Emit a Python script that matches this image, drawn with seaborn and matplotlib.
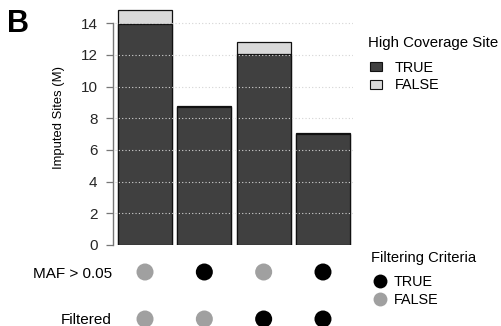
import matplotlib
matplotlib.use("Agg")
import matplotlib.pyplot as plt
from matplotlib.patches import Patch
from matplotlib.lines import Line2D
import seaborn as sns
import pandas as pd

# Imputed sites (millions) per filtering combination
combos = ["none", "maf", "filtered", "maf+filtered"]
high_cov_true = [13.95, 8.72, 12.05, 7.02]
high_cov_false = [0.89, 0.05, 0.78, 0.03]
maf_pass = [False, True, False, True]
filtered = [False, False, True, True]
y_ticks = [0, 2, 4, 6, 8, 10, 12, 14]
row_labels = ["MAF > 0.05", "Filtered"]

DARK = "#404040"
LIGHT = "#d9d9d9"
DOT_ON = "#000000"
DOT_OFF = "#a0a0a0"

sns.set_theme(style="white")
plt.rcParams["font.family"] = ["Liberation Sans", "DejaVu Sans"]
plt.rcParams["text.color"] = "black"
plt.rcParams["axes.labelcolor"] = "black"

W, H = 501, 326
fig = plt.figure(figsize=(W / 100, H / 100), dpi=100)


def rect(l, t, r, b):
    return [l / W, 1 - b / H, (r - l) / W, (b - t) / H]


bars = pd.DataFrame({
    "combo": combos,
    "true": high_cov_true,
    "total": [a + b for a, b in zip(high_cov_true, high_cov_false)],
})

# stacked bars: total (light) underneath, high-coverage part (dark) on top
ax = fig.add_axes(rect(115.35, 245 - 15 * 15.84, 352.65, 245))
sns.barplot(data=bars, x="combo", y="total", color=LIGHT, saturation=1,
            width=0.91, edgecolor="#111111", linewidth=0.9, ax=ax, zorder=2)
sns.barplot(data=bars, x="combo", y="true", color=DARK, saturation=1,
            width=0.91, edgecolor="#111111", linewidth=0.9, ax=ax, zorder=3)
ax.set_xlim(-0.5, 3.5)
ax.set_ylim(0, 15)
for yv in y_ticks[1:]:
    ax.axhline(yv, color="#d4d4d4", linestyle=(0, (1, 2)), linewidth=0.8, zorder=4)
ax.set_yticks(y_ticks)
ax.set_yticklabels([str(v) for v in y_ticks], fontsize=9.5, color="black")
ax.tick_params(axis="y", length=5, width=0.9, color="#777777", pad=5.8, left=True, direction="out")
ax.set_xticks([])
ax.set_xlabel("")
ax.set_ylabel("Imputed Sites (M)", fontsize=9.4, color="black")
ax.yaxis.set_label_coords(-0.212, 0.537)
for s in ["top", "right", "bottom"]:
    ax.spines[s].set_visible(False)
ax.spines["left"].set_position(("outward", 2))
ax.spines["left"].set_bounds(0, 14)
ax.spines["left"].set_color("#777777")
ax.spines["left"].set_linewidth(1.0)
ax.set_facecolor("none")

# dot matrix of the filtering criteria
dots = pd.DataFrame({
    "combo": combos * 2,
    "row": [1] * 4 + [0] * 4,
    "on": maf_pass + filtered,
})
ax2 = fig.add_axes(rect(115.35, 255, 352.65, 326))
sns.scatterplot(data=dots, x="combo", y="row", hue="on",
                palette={True: DOT_ON, False: DOT_OFF}, s=150, linewidth=0,
                legend=False, ax=ax2, clip_on=False)
ax2.set_xlim(-0.5, 3.5)
ax2.set_ylim(-7 / 47, 1 + 17 / 47)
ax2.set_yticks([1, 0])
ax2.set_yticklabels(row_labels, fontsize=11, color="black")
ax2.tick_params(axis="y", length=0, pad=2.4)
ax2.set_xticks([])
ax2.set_xlabel("")
ax2.set_ylabel("")
for s in ax2.spines.values():
    s.set_visible(False)
ax2.set_facecolor("none")

# legends (titles placed separately for a wider title gap)
fig.text(368 / W, 1 - 42.5 / H, "High Coverage Site", fontsize=10.8,
         ha="left", va="center")
fig.legend(
    handles=[Patch(facecolor=DARK, edgecolor="#111111", linewidth=0.8),
             Patch(facecolor=LIGHT, edgecolor="#111111", linewidth=0.8)],
    labels=["TRUE", "FALSE"],
    loc="upper left", bbox_to_anchor=(370 / W, 1 - 61 / H),
    frameon=False, fontsize=10.4,
    handlelength=0.8, handleheight=0.6, handletextpad=0.9,
    labelspacing=0.22, borderpad=0, borderaxespad=0,
)
fig.text(371 / W, 1 - 258 / H, "Filtering Criteria", fontsize=10.6,
         ha="left", va="center")
fig.legend(
    handles=[Line2D([], [], marker="o", linestyle="", markersize=10,
                    markerfacecolor=DOT_ON, markeredgewidth=0),
             Line2D([], [], marker="o", linestyle="", markersize=10,
                    markerfacecolor=DOT_OFF, markeredgewidth=0)],
    labels=["TRUE", "FALSE"],
    loc="upper left", bbox_to_anchor=(371 / W, 1 - 275.5 / H),
    frameon=False, fontsize=10.4,
    handlelength=1.25, handletextpad=0.3,
    labelspacing=0.26, borderpad=0, borderaxespad=0,
)

fig.text(7 / W, 1 - 31.7 / H, "B", fontsize=22, fontweight="bold",
         ha="left", va="baseline", color="black")

fig.savefig("out.png", dpi=100)
